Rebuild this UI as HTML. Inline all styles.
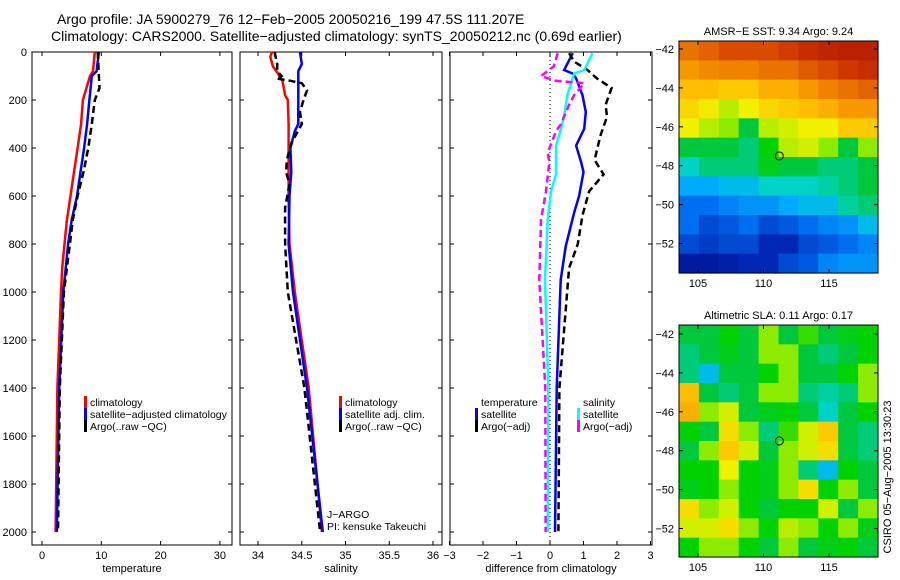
<!DOCTYPE html>
<html><head><meta charset="utf-8">
<style>
html,body{margin:0;padding:0;background:#fff;}
svg{display:block;font-family:"Liberation Sans",sans-serif;}
</style></head>
<body>
<svg id="fig" width="900" height="580" viewBox="0 0 900 580" xmlns="http://www.w3.org/2000/svg">
<rect width="900" height="580" fill="#fff"/>
<text x="57" y="24" font-size="14">Argo profile: JA 5900279_76 12−Feb−2005 20050216_199 47.5S 111.207E</text>
<text x="51" y="41" font-size="14">Climatology: CARS2000. Satellite−adjusted climatology: synTS_20050212.nc (0.69d earlier)</text>
<g id="maps"></g>
<g id="panels"></g>
</svg>
<script>
// ---------- data ----------
const depthT = [0,80,100,200,300,400,500,600,700,800,900,1000,1400,2000];
const tempClim = [8.9,8.6,8.1,6.9,6.6,6.0,5.4,4.8,4.2,3.8,3.4,3.2,2.6,2.3];
const tempSat = [9.6,9.2,8.4,8.0,7.6,7.1,6.5,5.9,5.0,4.4,4.0,3.6,2.9,2.5];
const depthTA = [0,100,150,200,300,400,500,600,700,800,900,1000,1400,2000];
const tempArgo = [9.4,9.6,9.7,8.9,8.4,7.8,7.0,6.0,5.2,4.7,4.2,3.7,3.0,2.7];

const depthS = [0,20,60,80,120,180,200,300,500,600,800,1000,1400,2000];
const salClim = [34.16,34.14,34.17,34.21,34.28,34.31,34.34,34.35,34.35,34.35,34.36,34.42,34.58,34.73];
const depthSS = [0,50,80,100,300,330,400,500,600,800,1000,1400,2000];
const salSat = [34.48,34.50,34.46,34.46,34.46,34.42,34.37,34.38,34.36,34.35,34.40,34.56,34.74];
const depthSA = [0,50,80,100,110,120,130,160,200,250,300,380,450,500,550,650,800,1000,1400,2000];
const salArgo = [34.19,34.22,34.22,34.27,34.21,34.37,34.50,34.56,34.52,34.48,34.50,34.38,34.33,34.32,34.36,34.31,34.31,34.34,34.53,34.71];

const depthD1 = [5,75,90,110,180,250,320,390,460,500,600,670,810,950,1400,2000];
const diffTSat = [0.68,0.42,0.68,0.78,0.97,1.07,1.02,0.78,0.93,1.0,0.87,0.72,0.47,0.32,0.2,0.15];
const depthD2 = [5,40,75,110,150,220,270,350,450,510,580,680,800,900,1400,2000];
const diffTArgo = [0.57,0.72,1.12,1.4,1.84,1.66,1.7,1.5,1.33,1.6,1.17,0.97,0.83,0.57,0.28,0.25];
const depthD3 = [5,75,90,180,250,320,390,510,580,700,950,1400,2000];
const diffSSat = [1.27,1.02,0.72,0.52,0.44,0.33,0.18,0.18,0.03,-0.07,-0.15,-0.05,-0.07];
const depthD4 = [5,60,100,120,130,180,220,300,330,420,460,580,700,950,1400,2000];
const diffSArgo = [0.23,0.11,-0.27,0.18,1.02,0.72,0.57,0.33,0.18,-0.07,-0.02,-0.12,-0.27,-0.32,-0.14,-0.13];

const depthTicks = [0,200,400,600,800,1000,1200,1400,1600,1800,2000];
const tempTicks = [0,10,20,30];
const salTicks = [34,34.5,35,35.5,36];
const diffTicks = [-3,-2,-1,0,1,2,3];

const latTicks = [-42,-44,-46,-48,-50,-52];
const lonTicks = [105,110,115];
const sstGrid = [
[0.80,0.82,0.85,0.85,0.85,0.87,0.90,0.92,0.93,0.93],
[0.75,0.77,0.78,0.78,0.80,0.80,0.83,0.85,0.88,0.90],
[0.70,0.70,0.68,0.68,0.72,0.72,0.75,0.78,0.80,0.82],
[0.66,0.63,0.58,0.62,0.66,0.68,0.70,0.72,0.75,0.75],
[0.62,0.58,0.55,0.45,0.58,0.60,0.62,0.62,0.68,0.68],
[0.45,0.45,0.45,0.42,0.50,0.58,0.60,0.55,0.45,0.55],
[0.38,0.42,0.42,0.42,0.48,0.45,0.45,0.42,0.42,0.45],
[0.33,0.33,0.35,0.35,0.38,0.38,0.38,0.40,0.42,0.45],
[0.25,0.25,0.28,0.30,0.30,0.33,0.35,0.35,0.40,0.42],
[0.25,0.20,0.22,0.25,0.20,0.22,0.25,0.28,0.30,0.35],
[0.20,0.18,0.20,0.20,0.15,0.15,0.20,0.22,0.25,0.28],
[0.10,0.10,0.12,0.15,0.15,0.20,0.22,0.28,0.30,0.30]];
const slaGrid = [
[.45,.45,.50,.45,.55,.45,.52,.45,.48,.50],
[.42,.45,.48,.45,.55,.55,.45,.42,.45,.50],
[.42,.35,.45,.45,.50,.55,.45,.45,.50,.55],
[.70,.45,.42,.45,.55,.55,.42,.40,.42,.55],
[.72,.55,.60,.45,.48,.50,.45,.38,.45,.50],
[.50,.45,.65,.55,.42,.52,.60,.68,.45,.42],
[.45,.55,.68,.60,.45,.55,.60,.65,.45,.42],
[.50,.50,.62,.50,.48,.55,.42,.35,.50,.45],
[.48,.50,.55,.50,.48,.55,.65,.50,.55,.45],
[.65,.55,.60,.50,.45,.50,.50,.60,.45,.55],
[.60,.60,.65,.55,.50,.58,.55,.50,.55,.48],
[.50,.55,.55,.50,.45,.55,.45,.48,.50,.45]];
const argoLon = 111.207, argoLat = -47.5;

// ---------- helpers ----------
const NS = "http://www.w3.org/2000/svg";
function mk(parent, tag, attrs){const e=document.createElementNS(NS,tag);for(const k in attrs)e.setAttribute(k,attrs[k]);parent.appendChild(e);return e;}
const cmapStops = [
[0.00,[0,0,120]],[0.15,[0,40,180]],[0.25,[0,110,240]],[0.33,[0,170,255]],
[0.38,[0,210,200]],[0.45,[0,200,60]],[0.50,[0,210,0]],[0.55,[140,235,0]],
[0.62,[240,240,0]],[0.70,[255,190,0]],[0.78,[240,130,0]],[0.87,[210,60,0]],[1.00,[160,0,0]]];
function jet(v){
  v=Math.max(0,Math.min(1,v));
  for(let i=1;i<cmapStops.length;i++){
    const [a,ca]=cmapStops[i-1],[b,cb]=cmapStops[i];
    if(v<=b){const t=(v-a)/(b-a);
      return `rgb(${Math.round(ca[0]+(cb[0]-ca[0])*t)},${Math.round(ca[1]+(cb[1]-ca[1])*t)},${Math.round(ca[2]+(cb[2]-ca[2])*t)})`;}
  }
  return 'rgb(160,0,0)';
}
const panelsG=document.getElementById('panels');
const yTop=52, yBot=545;
const yD = d => 52 + d*0.24;

function panel(name,x0,x1,xs,ticks,fmt,label,leftLabels){
  const g=mk(panelsG,'g',{});
  
  
  const fr=mk(g,'rect',{x:x0,y:yTop,width:x1-x0,height:yBot-yTop,fill:'none',stroke:'#000','stroke-width':1});
  
  
  depthTicks.forEach(d=>{
    const y=yD(d);
    mk(g,'line',{x1:x0,x2:x0+4,y1:y,y2:y,stroke:'#000'});
    mk(g,'line',{x1:x1-4,x2:x1,y1:y,y2:y,stroke:'#000'});
    if(leftLabels){const t=mk(g,'text',{x:x0-5,y:y+4,'font-size':11,'text-anchor':'end'});t.textContent=d;
      
      }
  });
  ticks.forEach(v=>{
    const x=xs(v);
    mk(g,'line',{x1:x,x2:x,y1:yBot,y2:yBot-4,stroke:'#000'});
    mk(g,'line',{x1:x,x2:x,y1:yTop,y2:yTop+4,stroke:'#000'});
    const t=mk(g,'text',{x:x,y:559,'font-size':11,'text-anchor':'middle'});t.textContent=String(fmt(v)).replace('-','−');
    
    
  });
  const lt=mk(g,'text',{x:(x0+x1)/2,y:572,'font-size':11,'text-anchor':'middle'});lt.textContent=label;
  
  
  return g;
}
function series(g,name,depths,vals,xs,color,dash){
  let d='';
  for(let i=0;i<vals.length;i++){d+=(i?'L':'M')+xs(vals[i]).toFixed(1)+','+yD(depths[i]).toFixed(1);}
  const p=mk(g,'path',{d:d,fill:'none',stroke:color,'stroke-width':2.5});
  if(dash)p.setAttribute('stroke-dasharray',dash);
  
  
}
function legend(g,x,y,color,text,name){
  const b=mk(g,'rect',{x:x,y:y-10,width:3,height:12,fill:color});
  
  
  const t=mk(g,'text',{x:x+6,y:y,'font-size':10.5});t.textContent=text;
  
  
}
function txt(g,x,y,s,name){const t=mk(g,'text',{x:x,y:y,'font-size':10.5});t.textContent=s;
  
  }

// Panel 1: temperature
const xT=v=>42+v*5.93;
const g1=panel('temperature-panel',32,232,xT,tempTicks,v=>v,'temperature',true);
series(g1,'temp-climatology-line',depthT,tempClim,xT,'#f00');
series(g1,'temp-satellite-line',depthT,tempSat,xT,'#00f');
series(g1,'temp-argo-line',depthTA,tempArgo,xT,'#000','7,4');
legend(g1,84,406,'#f00','climatology','legend-climatology');
legend(g1,84,418,'#00f','satellite−adjusted climatology','legend-satellite');
legend(g1,84,430,'#000','Argo(..raw −QC)','legend-argo');

// Panel 2: salinity
const xS=v=>258+(v-34)*87.5;
const g2=panel('salinity-panel',240,442,xS,salTicks,v=>v,'salinity',false);
series(g2,'sal-climatology-line',depthS,salClim,xS,'#f00');
series(g2,'sal-satellite-line',depthSS,salSat,xS,'#00f');
series(g2,'sal-argo-line',depthSA,salArgo,xS,'#000','7,4');
legend(g2,339,406,'#f00','climatology','legend-sal-climatology');
legend(g2,339,418,'#00f','satellite adj. clim.','legend-sal-satellite');
legend(g2,339,430,'#000','Argo(..raw −QC)','legend-sal-argo');
txt(g2,327,518,'J−ARGO','float-program-label');
txt(g2,327,530,'PI: kensuke Takeuchi','pi-label');

// Panel 3: differences
const xDf=v=>550+v*33.5;
const g3=panel('difference-panel',450,652,xDf,diffTicks,v=>v,'difference from climatology',false);
const zl=mk(g3,'line',{x1:xDf(0),x2:xDf(0),y1:yTop,y2:yBot,stroke:'#000','stroke-dasharray':'1,3'});


series(g3,'diff-temp-satellite-line',depthD1,diffTSat,xDf,'#00f');
series(g3,'diff-temp-argo-line',depthD2,diffTArgo,xDf,'#000','7,4');
series(g3,'diff-sal-satellite-line',depthD3,diffSSat,xDf,'#0ff');
series(g3,'diff-sal-argo-line',depthD4,diffSArgo,xDf,'#f0f','7,4');
txt(g3,481,406,'temperature','legend-temperature-header');
legend(g3,475,418,'#00f','satellite','legend-temp-satellite');
legend(g3,475,430,'#000','Argo(−adj)','legend-temp-argo');
txt(g3,583,406,'salinity','legend-salinity-header');
legend(g3,577,418,'#0ff','satellite','legend-sal-sat');
legend(g3,577,430,'#f0f','Argo(−adj)','legend-sal-argo-diff');

// ---------- maps ----------
const mapsG=document.getElementById('maps');
function drawMap(name,grid,top,bottom,lat42y,title){
  const g=mk(mapsG,'g',{});
  
  
  const L=679,R=878;
  const latY=lat=>lat42y+(-42-lat)*19.45;
  const lonX=lon=>698+(lon-105)*13.1;
  const rows=grid.length, cols=grid[0].length;
  const cw=(R-L)/cols, ch=(bottom-top)/rows;
  for(let r=0;r<rows;r++)for(let c=0;c<cols;c++){
    const cell=mk(g,'rect',{x:(L+c*cw).toFixed(2),y:(top+r*ch).toFixed(2),width:(cw+0.6).toFixed(2),height:(ch+0.6).toFixed(2),fill:jet(grid[r][c])});
    
    
  }
  mk(g,'rect',{x:L,y:top,width:R-L,height:bottom-top,fill:'none',stroke:'#000'});
  latTicks.forEach(v=>{const y=latY(v);
    mk(g,'line',{x1:L,x2:L+4,y1:y,y2:y,stroke:'#000'});
    mk(g,'line',{x1:R-4,x2:R,y1:y,y2:y,stroke:'#000'});
    const t=mk(g,'text',{x:L-5,y:y+4,'font-size':11,'text-anchor':'end'});t.textContent=String(v).replace('-','−');
    
    });
  lonTicks.forEach(v=>{const x=lonX(v);
    mk(g,'line',{x1:x,x2:x,y1:top,y2:top+4,stroke:'#000'});
    mk(g,'line',{x1:x,x2:x,y1:bottom,y2:bottom-4,stroke:'#000'});
    const t=mk(g,'text',{x:x,y:bottom+14,'font-size':11,'text-anchor':'middle'});t.textContent=v;
    
    });
  const tt=mk(g,'text',{x:(L+R)/2,y:top-6,'font-size':11,'text-anchor':'middle'});tt.textContent=title;
  
  
  const c=mk(g,'circle',{cx:lonX(argoLon),cy:latY(argoLat),r:4,fill:'none',stroke:'#000','stroke-width':1});
  
  
}
drawMap('sst-map',sstGrid,41,273,49,'AMSR−E SST: 9.34 Argo: 9.24');
drawMap('sla-map',slaGrid,325,557,334,'Altimetric SLA: 0.11 Argo: 0.17');
const cs=mk(mapsG,'text',{x:0,y:0,'font-size':11,'text-anchor':'middle',transform:'translate(891,477) rotate(-90)'});
cs.textContent='CSIRO 05−Aug−2005 13:30:23';


</script>
</body></html>
